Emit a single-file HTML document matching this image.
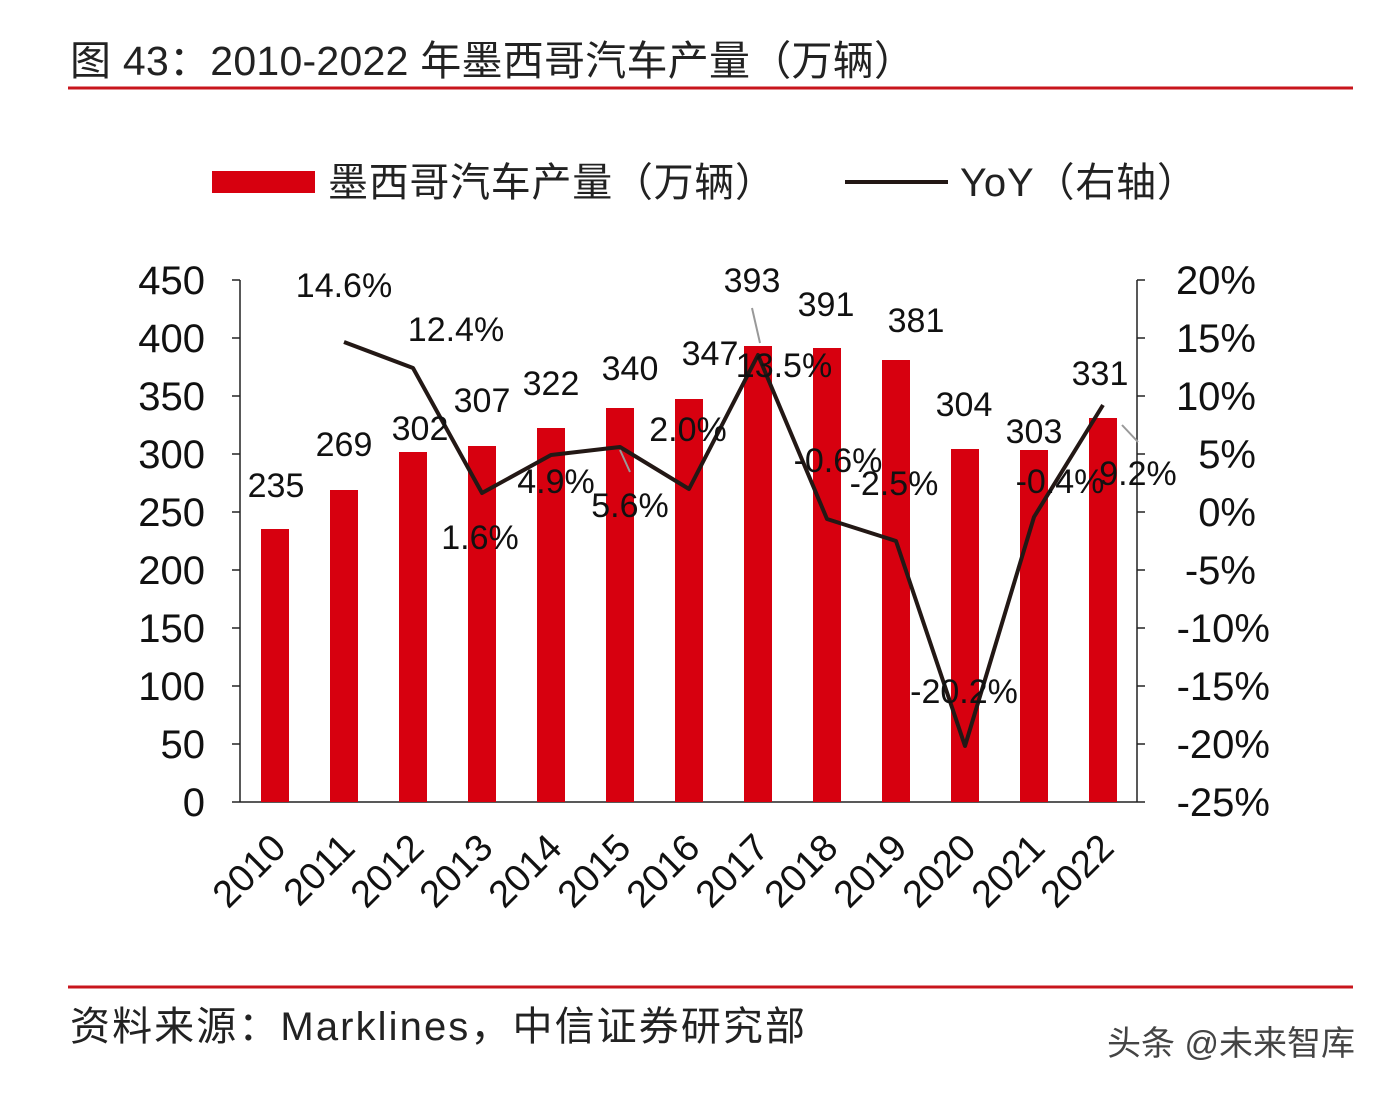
<!DOCTYPE html>
<html><head><meta charset="utf-8"><style>
body{margin:0;background:#fff;}
svg text{font-family:"Liberation Sans","Noto Sans CJK SC",sans-serif;}
</style></head><body>
<svg width="1386" height="1090" viewBox="0 0 1386 1090" xmlns="http://www.w3.org/2000/svg">
<text x="70" y="75" font-size="41" fill="#222" textLength="845">图 43：2010-2022 年墨西哥汽车产量（万辆）</text>
<line x1="68" y1="88" x2="1353" y2="88" stroke="#c8161d" stroke-width="3"/>
<rect x="212" y="171" width="103" height="22" fill="#d7000f"/>
<text x="328" y="196" font-size="40" fill="#222" textLength="447">墨西哥汽车产量（万辆）</text>
<line x1="845" y1="182" x2="948" y2="182" stroke="#231815" stroke-width="4"/>
<text x="960" y="196" font-size="40" fill="#222" textLength="237">YoY（右轴）</text>
<g stroke="#222" stroke-width="1.5">
<line x1="240" y1="280" x2="240" y2="802"/>
<line x1="1137" y1="280" x2="1137" y2="802"/>
<line x1="240" y1="802" x2="1137" y2="802"/>
<line x1="232" y1="280" x2="240" y2="280"/><line x1="232" y1="338" x2="240" y2="338"/><line x1="232" y1="396" x2="240" y2="396"/><line x1="232" y1="454" x2="240" y2="454"/><line x1="232" y1="512" x2="240" y2="512"/><line x1="232" y1="570" x2="240" y2="570"/><line x1="232" y1="628" x2="240" y2="628"/><line x1="232" y1="686" x2="240" y2="686"/><line x1="232" y1="744" x2="240" y2="744"/><line x1="232" y1="802" x2="240" y2="802"/>
<line x1="1137" y1="280" x2="1145" y2="280"/><line x1="1137" y1="338" x2="1145" y2="338"/><line x1="1137" y1="396" x2="1145" y2="396"/><line x1="1137" y1="454" x2="1145" y2="454"/><line x1="1137" y1="512" x2="1145" y2="512"/><line x1="1137" y1="570" x2="1145" y2="570"/><line x1="1137" y1="628" x2="1145" y2="628"/><line x1="1137" y1="686" x2="1145" y2="686"/><line x1="1137" y1="744" x2="1145" y2="744"/><line x1="1137" y1="802" x2="1145" y2="802"/>
</g>
<g font-size="40" fill="#111" text-anchor="end">
<text x="205" y="294">450</text><text x="205" y="352">400</text><text x="205" y="410">350</text><text x="205" y="468">300</text><text x="205" y="526">250</text><text x="205" y="584">200</text><text x="205" y="642">150</text><text x="205" y="700">100</text><text x="205" y="758">50</text><text x="205" y="816">0</text>
</g>
<g font-size="40" fill="#111" text-anchor="end">
<text x="1256" y="294">20%</text><text x="1256" y="352">15%</text><text x="1256" y="410">10%</text><text x="1256" y="468">5%</text><text x="1256" y="526">0%</text><text x="1256" y="584">-5%</text><text x="1270" y="642">-10%</text><text x="1270" y="700">-15%</text><text x="1270" y="758">-20%</text><text x="1270" y="816">-25%</text>
</g>
<g fill="#d7000f">
<rect x="261" y="529" width="28" height="273"/>
<rect x="330" y="490" width="28" height="312"/>
<rect x="399" y="452" width="28" height="350"/>
<rect x="468" y="446" width="28" height="356"/>
<rect x="537" y="428" width="28" height="374"/>
<rect x="606" y="408" width="28" height="394"/>
<rect x="675" y="399" width="28" height="403"/>
<rect x="744" y="346" width="28" height="456"/>
<rect x="813" y="348" width="28" height="454"/>
<rect x="882" y="360" width="28" height="442"/>
<rect x="951" y="449" width="28" height="353"/>
<rect x="1020" y="450" width="28" height="352"/>
<rect x="1089" y="418" width="28" height="384"/>
</g>
<polyline fill="none" stroke="#231815" stroke-width="4" stroke-linejoin="round" points="344,342 413,368 482,493 551,455 620,447 689,489 758,355 827,519 896,541 965,746 1034,517 1103,405"/>
<g stroke="#999" stroke-width="2"><line x1="620" y1="450" x2="630" y2="472"/><line x1="752" y1="308" x2="760" y2="343"/><line x1="1122" y1="425" x2="1138" y2="442"/></g>
<g font-size="34" fill="#111" text-anchor="middle">
<text x="276" y="497">235</text><text x="344" y="456">269</text><text x="420" y="440">302</text><text x="482" y="412">307</text><text x="551" y="395">322</text><text x="630" y="380">340</text><text x="710" y="365">347</text><text x="752" y="292">393</text><text x="826" y="316">391</text><text x="916" y="332">381</text><text x="964" y="416">304</text><text x="1034" y="443">303</text><text x="1100" y="385">331</text>
<text x="344" y="297">14.6%</text><text x="456" y="341">12.4%</text><text x="480" y="549">1.6%</text><text x="556" y="493">4.9%</text><text x="630" y="517">5.6%</text><text x="688" y="441">2.0%</text><text x="784" y="377">13.5%</text><text x="838" y="472">-0.6%</text><text x="894" y="495">-2.5%</text><text x="964" y="703">-20.2%</text><text x="1060" y="493">-0.4%</text><text x="1138" y="485">9.2%</text>
</g>
<g font-size="38" fill="#111" text-anchor="end">
<text transform="translate(288,850) rotate(-45)">2010</text>
<text transform="translate(357,850) rotate(-45)">2011</text>
<text transform="translate(426,850) rotate(-45)">2012</text>
<text transform="translate(495,850) rotate(-45)">2013</text>
<text transform="translate(564,850) rotate(-45)">2014</text>
<text transform="translate(633,850) rotate(-45)">2015</text>
<text transform="translate(702,850) rotate(-45)">2016</text>
<text transform="translate(771,850) rotate(-45)">2017</text>
<text transform="translate(840,850) rotate(-45)">2018</text>
<text transform="translate(909,850) rotate(-45)">2019</text>
<text transform="translate(978,850) rotate(-45)">2020</text>
<text transform="translate(1047,850) rotate(-45)">2021</text>
<text transform="translate(1116,850) rotate(-45)">2022</text>
</g>
<line x1="68" y1="987" x2="1353" y2="987" stroke="#c8161d" stroke-width="3"/>
<text x="70" y="1040" font-size="40" fill="#222" textLength="735">资料来源：Marklines，中信证券研究部</text>
<text x="1355" y="1055" font-size="34" fill="#444" text-anchor="end">头条 @未来智库</text>
</svg>
</body></html>
